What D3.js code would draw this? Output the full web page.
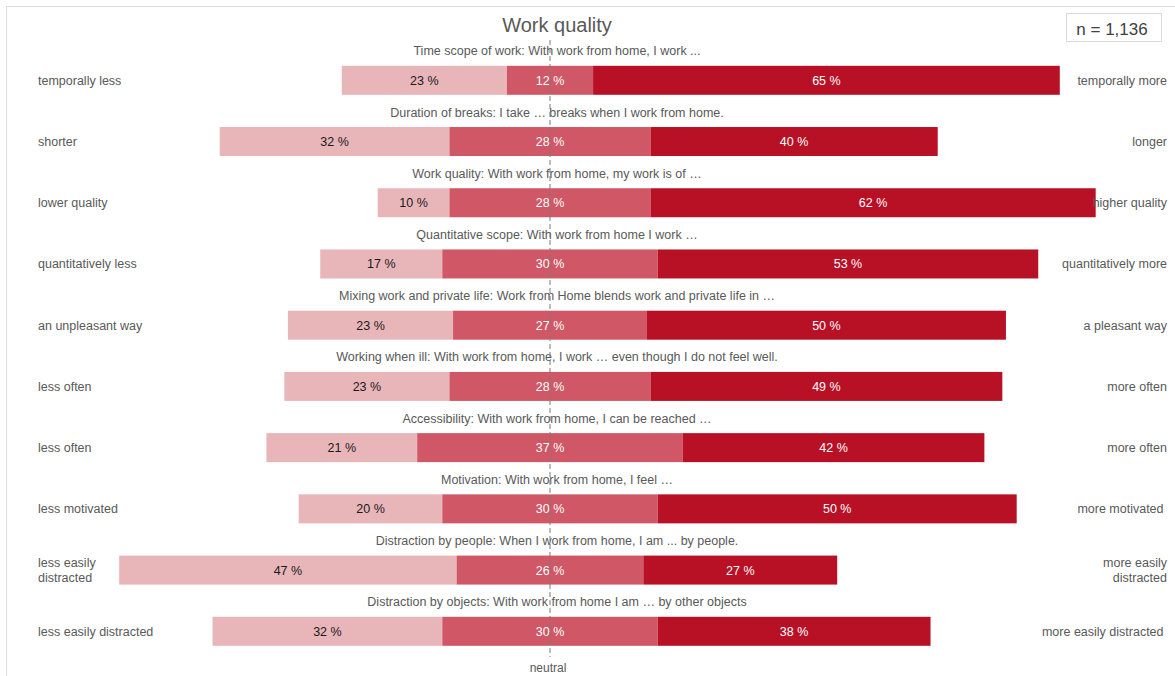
<!DOCTYPE html>
<html>
<head>
<meta charset="utf-8">
<script src="https://cdn.jsdelivr.net/npm/d3@7"></script>
<style>
  html, body { margin: 0; padding: 0; background: #fff; }
  svg text { font-family: Arial, "Liberation Sans", sans-serif; }
</style>
</head>
<body>
<svg id="chart" width="1175" height="676"></svg>
<script>
// Survey items and their answer shares (in %)
const questions = [
  "Time scope of work: With work from home, I work ...",
  "Duration of breaks: I take \u2026 breaks when I work from home.",
  "Work quality: With work from home, my work is of \u2026",
  "Quantitative scope: With work from home I work \u2026",
  "Mixing work and private life: Work from Home blends work and private life in \u2026",
  "Working when ill: With work from home, I work \u2026 even though I do not feel well.",
  "Accessibility: With work from home, I can be reached \u2026",
  "Motivation: With work from home, I feel \u2026",
  "Distraction by people: When I work from home, I am ... by people.",
  "Distraction by objects: With work from home I am \u2026 by other objects"
];
const leftLabels = [
  "temporally less", "shorter", "lower quality", "quantitatively less",
  "an unpleasant way", "less often", "less often", "less motivated",
  "less easily\ndistracted", "less easily distracted"
];
const rightLabels = [
  "temporally more", "longer", "higher quality", "quantitatively more",
  "a pleasant way", "more often", "more often", "more motivated ",
  "more easily\ndistracted", "more easily distracted "
];
const negative = [23, 32, 10, 17, 23, 23, 21, 20, 47, 32];
const neutral  = [12, 28, 28, 30, 27, 28, 37, 30, 26, 30];
const positive = [65, 40, 62, 53, 50, 49, 42, 50, 27, 38];
const sampleLabel = "n = 1,136";
const chartTitle = "Work quality";

const colors = { neg: "#e8b5b9", neu: "#cf5766", pos: "#b81025" };
const textColors = { neg: "#1a1a1a", neu: "#ffffff", pos: "#ffffff" };

const svg = d3.select("#chart");

// Card frame
svg.append("rect")
  .attr("x", 6.5).attr("y", 6.5)
  .attr("width", 1200).attr("height", 700)
  .attr("fill", "none").attr("stroke", "#dcdcdc");

// Scales: neutral share is centred on 0
const x = d3.scaleLinear().domain([-70, 70]).range([47.4, 1052.6]);
const y = d3.scalePoint().domain(d3.range(questions.length)).range([80.3, 631.3]);
const barH = 29;

// Build stacked segments for each item
const rows = questions.map((q, i) => {
  const half = neutral[i] / 2;
  return {
    i, q,
    segs: [
      { key: "neg", v: negative[i], x0: -half - negative[i], x1: -half },
      { key: "neu", v: neutral[i],  x0: -half, x1: half },
      { key: "pos", v: positive[i], x0: half, x1: half + positive[i] }
    ]
  };
});

// Title
svg.append("text")
  .attr("x", 557).attr("y", 32)
  .attr("text-anchor", "middle")
  .attr("font-size", 20)
  .attr("fill", "#595959")
  .text(chartTitle);

// Sample size box
svg.append("rect")
  .attr("x", 1066.5).attr("y", 13.5)
  .attr("width", 95).attr("height", 28)
  .attr("fill", "#fff").attr("stroke", "#d9d9d9");
svg.append("text")
  .attr("x", 1112).attr("y", 35)
  .attr("text-anchor", "middle")
  .attr("font-size", 17)
  .attr("fill", "#404040")
  .text(sampleLabel);

const row = svg.selectAll("g.row").data(rows).join("g").attr("class", "row");

// Question text above each bar
row.append("text")
  .attr("x", x(0) + 7)
  .attr("y", d => y(d.i) - 25)
  .attr("text-anchor", "middle")
  .attr("font-size", 12.5)
  .attr("fill", "#595959")
  .text(d => d.q);

// Bars
row.selectAll("rect.seg").data(d => d.segs.map(s => ({ ...s, i: d.i }))).join("rect")
  .attr("class", "seg")
  .attr("x", s => x(s.x0))
  .attr("width", s => x(s.x1) - x(s.x0))
  .attr("y", s => y(s.i) - barH / 2)
  .attr("height", barH)
  .attr("fill", s => colors[s.key]);

// Percent labels
row.selectAll("text.val").data(d => d.segs.map(s => ({ ...s, i: d.i }))).join("text")
  .attr("class", "val")
  .attr("x", s => (x(s.x0) + x(s.x1)) / 2)
  .attr("y", s => y(s.i) + 4.5)
  .attr("text-anchor", "middle")
  .attr("font-size", 12.5)
  .attr("fill", s => textColors[s.key])
  .text(s => s.v + " %");

// Side labels (possibly two lines)
function sideLabel(sel, accessor, xPos, anchor) {
  sel.append("text")
    .attr("x", xPos)
    .attr("text-anchor", anchor)
    .attr("font-size", 12.5)
    .attr("fill", "#595959")
    .style("white-space", "pre")
    .each(function(d) {
      const lines = accessor(d).split("\n");
      const t = d3.select(this);
      const start = y(d.i) + 4.5 - (lines.length - 1) * 7.5;
      lines.forEach((ln, k) => {
        t.append("tspan").attr("x", xPos).attr("y", start + k * 15).text(ln);
      });
    });
}
sideLabel(row, d => leftLabels[d.i], 38, "start");
sideLabel(row, d => rightLabels[d.i], 1167, "end");

// Neutral reference line
svg.append("line")
  .attr("x1", x(0)).attr("x2", x(0))
  .attr("y1", 40).attr("y2", 657)
  .attr("stroke", "#7a7a7a")
  .attr("stroke-width", 1)
  .attr("stroke-dasharray", "5,3");
svg.append("text")
  .attr("x", x(0) - 2).attr("y", 672)
  .attr("text-anchor", "middle")
  .attr("font-size", 12)
  .attr("fill", "#595959")
  .text("neutral");
</script>
</body>
</html>
